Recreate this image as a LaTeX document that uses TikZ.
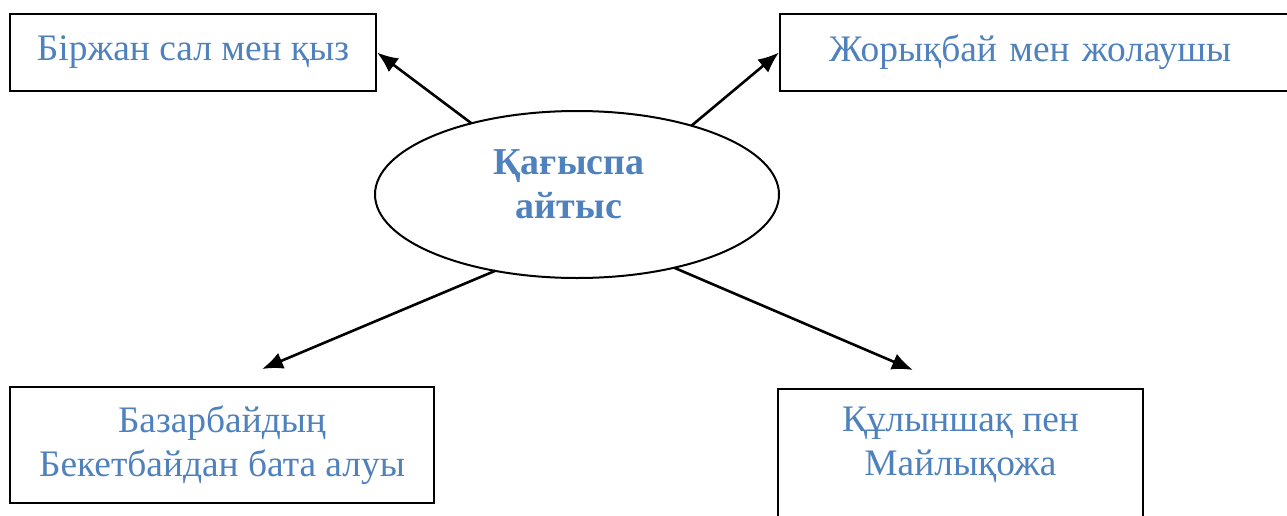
\documentclass[tikz,border=0pt]{standalone}
\usepackage{fontspec}
\setmainfont{Liberation Serif}
\usepackage{tikz}
\usetikzlibrary{shapes,arrows.meta}
\definecolor{txtblue}{RGB}{79,129,189}
\tikzset{
    box/.style = {draw, rectangle, line width=1pt, inner sep=0pt,
        text=txtblue, font=\fontsize{18.7}{22}\selectfont},
    oval/.style = {draw, ellipse, line width=1pt, inner sep=0pt, outer sep=0pt,
        minimum width=202pt, minimum height=83.5pt},
    title/.style = {text=txtblue, font=\fontsize{19}{22}\selectfont\bfseries,
        align=center, inner sep=0pt},
    arrow/.style = {draw, -{Latex[length=10.5pt,width=8.5pt]}, line width=1.3pt}
}

\begin{document}
\begin{tikzpicture}[x=0.5pt,y=-0.5pt]
            \useasboundingbox (0,0) rectangle (1287,515);
            \node[oval] (ayt) at (577,194.5) {};
            \node[title] (ttl) at (569,184) {Қағыспа\\айтыс};
            \node[box, minimum width=183pt, minimum height=38.5pt] (bzh) at (193,52.5) {Біржан сал мен қыз};
            \node[box, anchor=west, minimum height=38.5pt, inner xsep=24.5pt, text width=236pt, align=left] (zhor) at (779,52.5) {Жорықбай мен жолаушы};
            \node[box, minimum width=212pt, minimum height=58pt, align=center] (baz) at (222,445) {Базарбайдың\\Бекетбайдан бата алуы};
            \node[box, anchor=north, minimum width=182.5pt, inner ysep=9pt, text depth=20pt, align=center] (kul) at (960.5,388) {Құлыншақ пен\\Майлықожа};
            \coordinate (bazend) at (262,369);
            \coordinate (kulend) at (913,370);
            \draw[arrow] (ayt.146) -- (bzh.east);
            \draw[arrow] (ayt.31) -- (zhor.west);
            \draw[arrow] (ayt.223) -- (bazend);
            \draw[arrow] (ayt.323) -- (kulend);
        \end{tikzpicture}
\end{document}
